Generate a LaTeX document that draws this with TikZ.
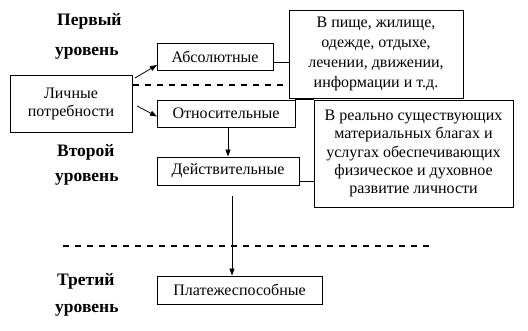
\documentclass[tikz,border=0pt]{standalone}
\usepackage{fontspec}
\setmainfont{Liberation Serif}
\usetikzlibrary{arrows.meta,calc}
\begin{document}
\begin{tikzpicture}[x=1pt,y=-1pt,
  box/.style={draw,line width=0.9pt,inner sep=0pt,align=center,font=\fontsize{16}{18}\selectfont},
  lvl/.style={anchor=west,inner sep=0pt,font=\fontsize{17.5}{18}\selectfont\bfseries},
  arr/.style={line width=0.8pt,-{Triangle[length=7pt,width=5pt]}},
  conn/.style={line width=0.8pt},
  dsh/.style={line width=1.6pt,dash pattern=on 6pt off 6pt}]
\useasboundingbox (0,0) rectangle (528,331);
% level labels
\node[lvl] (l1a) at (57,21) {Первый};
\node[lvl] (l1b) at (55,53) {уровень};
\node[lvl] (l2a) at (57,152) {Второй};
\node[lvl] (l2b) at (55,179) {уровень};
\node[lvl] (l3a) at (57,281) {Третий};
\node[lvl] (l3b) at (55,310) {уровень};
% boxes
\node[box,minimum width=122pt,minimum height=57pt] (lich) at (71,103.5) {Личные\\потребности};
\node[box,minimum width=116pt,minimum height=27pt] (abs) at (215,56.5) {Абсолютные};
\node[box,minimum width=138pt,minimum height=27pt] (otn) at (226,113.5) {Относительные};
\node[box,minimum width=142pt,minimum height=28pt] (deis) at (228,171) {Действительные};
\node[box,minimum width=165pt,minimum height=28pt] (plat) at (239.5,290) {Платежеспособные};
\node[box,minimum width=174pt,minimum height=88pt,font=\fontsize{16}{20}\selectfont] (b1) at (376,54) {В пище, жилище,\\одежде, отдыхе,\\лечении, движении,\\информации и т.д.};
\node[box,minimum width=199pt,minimum height=107pt,font=\fontsize{16}{18.3}\selectfont] (b2) at (413.5,153.5) {В реально существующих\\материальных благах и\\услугах обеспечивающих\\физическое и духовное\\развитие личности};
% dashed lines
\coordinate (d1s) at (133,85);
\coordinate (d2s) at (63,246);
\coordinate (d2e) at (433,246);
\draw[dsh] (d1s) -- (d1s -| b1.west);
\draw[dsh] (d2s) -- (d2e);
% arrows
\coordinate (a1s) at (135,78);
\coordinate (a1e) at (157,65);
\coordinate (a2s) at (137,106);
\coordinate (a2e) at (157,116.5);
\draw[arr] (a1s) -- (a1e);
\draw[arr] (a2s) -- (a2e);
\draw[arr] (deis.north |- otn.south) -- (deis.north);
\coordinate (a3s) at (232,196);
\draw[arr] (a3s) -- (a3s |- plat.north);
% connectors
\coordinate (c1) at (273,62);
\draw[conn] (c1) -- (c1 -| b1.west);
\draw[conn] (otn.north east) -- (b2.north west);
\coordinate (c3) at (299,181);
\draw[conn] (c3) -- (c3 -| b2.west);
\end{tikzpicture}
\end{document}
